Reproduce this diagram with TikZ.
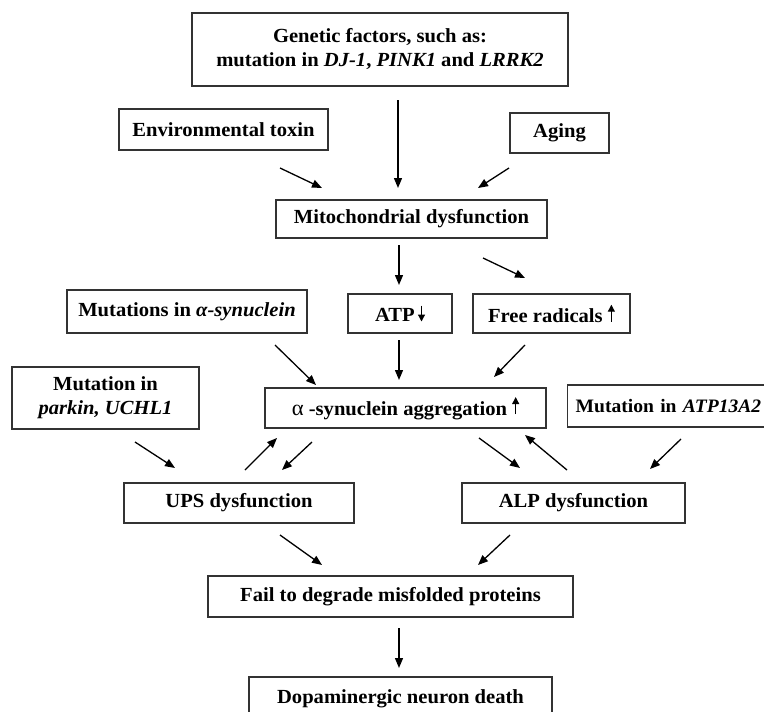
\documentclass[tikz,border=0pt]{standalone}
\usepackage{fontspec}
\setmainfont{Liberation Serif}[FakeStretch=1.03]
\usetikzlibrary{arrows.meta}
\newcommand\myup{\tikz[baseline=-1pt]\draw[line width=1.2pt,-{Triangle[length=7pt,width=7pt]}] (0pt,0pt) -- (0pt,17pt);}
\newcommand\mydown{\tikz[baseline=-1pt]\draw[line width=1.2pt,-{Triangle[length=7pt,width=7pt]}] (0pt,15pt) -- (0pt,-1pt);}
\tikzset{
  box/.style={draw=black!80, line width=1.4pt, align=center, inner sep=0pt,
    font=\fontsize{20}{24}\selectfont\bfseries},
  arr/.style={line width=1.3pt, -{Triangle[length=10pt,width=8pt]}}
}
\begin{document}
\begin{tikzpicture}[x=1pt,y=-1pt]
\clip (0,0) rectangle (764,712);
\fill[white] (0,0) rectangle (764,712);
% boxes
\node[box, minimum width=376pt, minimum height=73pt] (gen) at (380,49.5)
  {Genetic factors, such as:\\mutation in \textit{DJ-1}, \textit{PINK1} and \textit{LRRK2}};
\node[box, minimum width=209pt, minimum height=41pt] (env) at (223.5,129.5) {Environmental toxin};
\node[box, minimum width=99pt, minimum height=40pt] (aging) at (559.5,133) {Aging};
\node[box, minimum width=271pt, minimum height=38pt] (mito) at (411.5,219) {Mitochondrial dysfunction};
\node[box, minimum width=240pt, minimum height=43pt] (musyn) at (187,311.5) {Mutations in \textit{α-synuclein}};
\node[box, minimum width=104pt, minimum height=39pt] (atp) at (400,313.5) {ATP\,\mydown};
\node[box, minimum width=157pt, minimum height=39pt] (free) at (551.5,313.5) {Free radicals \myup};
\node[box, minimum width=281pt, minimum height=40pt] (agg) at (405.5,408) {{\fontseries{m}\fontsize{22}{24}\selectfont α} -synuclein aggregation \myup};
\node[box, minimum width=187pt, minimum height=62pt] (parkin) at (105.5,398) {Mutation in\\\textit{parkin, UCHL1}};
\node[box, minimum height=42pt, minimum width=215pt, anchor=west, inner xsep=7pt, text width=199pt, align=left,
  font=\fontsize{19}{24}\selectfont\bfseries] (atpt) at (567,406) {Mutation in \textit{ATP13A2}};
\node[box, minimum width=230pt, minimum height=40pt] (ups) at (239,503) {UPS dysfunction};
\node[box, minimum width=223pt, minimum height=40pt] (alp) at (573.5,503) {ALP dysfunction};
\node[box, minimum width=365pt, minimum height=41pt] (fail) at (390.5,596.5) {Fail to degrade misfolded proteins};
\node[box, minimum width=303pt, minimum height=44pt] (dopa) at (400.5,699) {Dopaminergic neuron death};
% arrow end points
\coordinate (genS) at (398,100);   \coordinate (genE) at (398,188);
\coordinate (envS) at (280,168);   \coordinate (envE) at (322,188);
\coordinate (agS) at (509,168);    \coordinate (agE) at (478,188);
\coordinate (miAS) at (399,245);   \coordinate (miAE) at (399,285);
\coordinate (miFS) at (483,258);   \coordinate (miFE) at (525,278);
\coordinate (muS) at (275,345);    \coordinate (muE) at (316,385);
\coordinate (atS) at (399,340);    \coordinate (atE) at (399,380);
\coordinate (frS) at (525,345);    \coordinate (frE) at (494,377);
\coordinate (paS) at (135,442);    \coordinate (paE) at (175,468);
\coordinate (uaS) at (245,470);    \coordinate (uaE) at (277,438);
\coordinate (auS) at (312,442);    \coordinate (auE) at (282,470);
\coordinate (alS) at (479,438);    \coordinate (alE) at (520,468);
\coordinate (laS) at (567,470);    \coordinate (laE) at (525,435);
\coordinate (a13S) at (681,439);   \coordinate (a13E) at (650,469);
\coordinate (ufS) at (280,535);    \coordinate (ufE) at (322,565);
\coordinate (lfS) at (510,535);    \coordinate (lfE) at (478,565);
\coordinate (fdS) at (399,628);    \coordinate (fdE) at (399,668);
% arrows
\foreach \a in {gen,env,ag,miA,miF,mu,at,fr,pa,ua,au,al,la,a13,uf,lf,fd}
  \draw[arr] (\a S) -- (\a E);
\end{tikzpicture}
\end{document}
